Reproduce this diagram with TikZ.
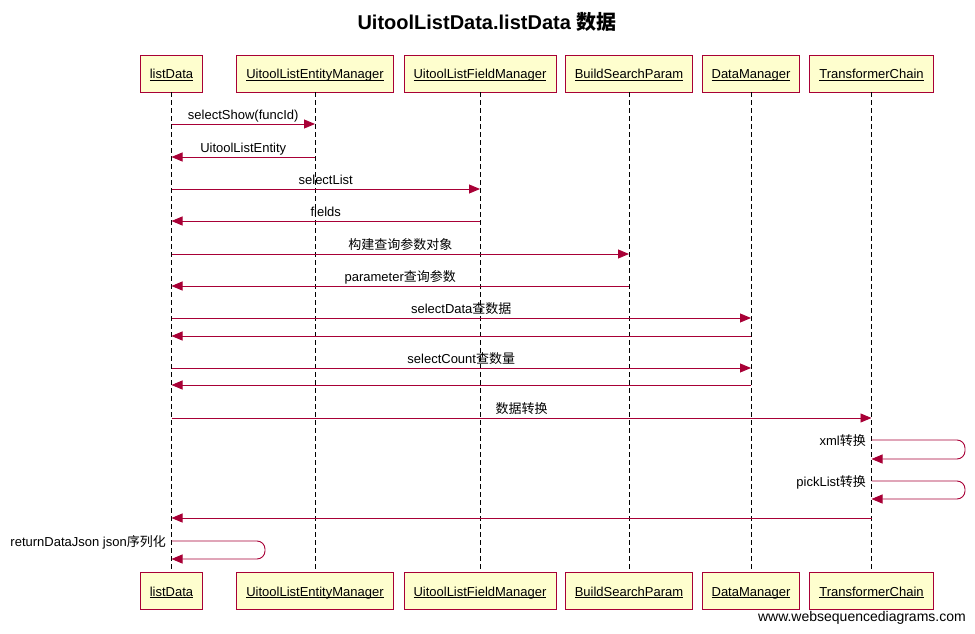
\documentclass[tikz,border=0pt]{standalone}
\usepackage{fontspec}
\setmainfont{Liberation Sans}
\newfontfamily\cjk{Noto Sans CJK SC}
\usetikzlibrary{arrows.meta}
\definecolor{seqred}{RGB}{168,0,54}
\definecolor{seqfill}{RGB}{254,254,206}
\newcommand{\ulname}[1]{\underline{\smash{#1}}}
\begin{document}
\begin{tikzpicture}[x=1pt,y=-1pt,font=\fontsize{13}{15}\selectfont,
  actor/.style={draw=seqred,fill=seqfill,line width=0.8pt,minimum height=37pt,inner xsep=9.5pt,text height=12pt,text depth=1pt},
  life/.style={line width=0.7pt,dash pattern=on 5pt off 3pt},
  msg/.style={draw=seqred,line width=0.9pt,-{Triangle[length=11pt,width=9pt]}},
  lbl/.style={anchor=south,inner sep=2pt,text height=9.5pt,text depth=2pt}]
\useasboundingbox (0,0) rectangle (975,634);
\node[font=\fontsize{20}{24}\selectfont\bfseries] (title) at (487,22) {UitoolListData.listData {\cjk 数据}};
\node[actor] (ld) at (171.5,73.5) {\ulname{listData}};
\node[actor] (uem) at (315,73.5) {\ulname{UitoolListEntityManager}};
\node[actor] (ufm) at (480,73.5) {\ulname{UitoolListFieldManager}};
\node[actor] (bsp) at (629,73.5) {\ulname{BuildSearchParam}};
\node[actor] (dm) at (751,73.5) {\ulname{DataManager}};
\node[actor] (tc) at (871.5,73.5) {\ulname{TransformerChain}};
\node[actor] (ldb) at (171.5,590.5) {\ulname{listData}};
\node[actor] (uemb) at (315,590.5) {\ulname{UitoolListEntityManager}};
\node[actor] (ufmb) at (480,590.5) {\ulname{UitoolListFieldManager}};
\node[actor] (bspb) at (629,590.5) {\ulname{BuildSearchParam}};
\node[actor] (dmb) at (751,590.5) {\ulname{DataManager}};
\node[actor] (tcb) at (871.5,590.5) {\ulname{TransformerChain}};
\draw[life] (ld) -- (ldb);
\draw[life] (uem) -- (uemb);
\draw[life] (ufm) -- (ufmb);
\draw[life] (bsp) -- (bspb);
\draw[life] (dm) -- (dmb);
\draw[life] (tc) -- (tcb);
\draw[msg] (ld |- 0,124) -- (uem |- 0,124) node[lbl,midway] {selectShow(funcId)};
\draw[msg] (uem |- 0,157) -- (ld |- 0,157) node[lbl,midway] {UitoolListEntity};
\draw[msg] (ld |- 0,189) -- (ufm |- 0,189) node[lbl,midway] {selectList};
\draw[msg] (ufm |- 0,221) -- (ld |- 0,221) node[lbl,midway] {fields};
\draw[msg] (ld |- 0,254) -- (bsp |- 0,254) node[lbl,midway] {\cjk 构建查询参数对象};
\draw[msg] (bsp |- 0,286) -- (ld |- 0,286) node[lbl,midway] {parameter{\cjk 查询参数}};
\draw[msg] (ld |- 0,318) -- (dm |- 0,318) node[lbl,midway] {selectData{\cjk 查数据}};
\draw[msg] (dm |- 0,336) -- (ld |- 0,336);
\draw[msg] (ld |- 0,368) -- (dm |- 0,368) node[lbl,midway] {selectCount{\cjk 查数量}};
\draw[msg] (dm |- 0,385) -- (ld |- 0,385);
\draw[msg] (ld |- 0,418) -- (tc |- 0,418) node[lbl,midway] {\cjk 数据转换};
\draw[msg,rounded corners=8pt] (tc |- 0,440) -- (965,440) -- (965,459) -- (tc |- 0,459);
\node[anchor=east,inner sep=0pt] (xml) at (866,441) {xml{\cjk 转换}};
\draw[msg,rounded corners=8pt] (tc |- 0,481) -- (965,481) -- (965,499) -- (tc |- 0,499);
\node[anchor=east,inner sep=0pt] (pick) at (866,482) {pickList{\cjk 转换}};
\draw[msg] (tc |- 0,518) -- (ld |- 0,518);
\draw[msg,rounded corners=8pt] (ld |- 0,541) -- (265,541) -- (265,559) -- (ld |- 0,559);
\node[anchor=east,inner sep=0pt] (json) at (166,542) {returnDataJson json{\cjk 序列化}};
\node[anchor=east,inner sep=0pt,font=\fontsize{14}{16}\selectfont] (wsd) at (966,618) {www.websequencediagrams.com};
\end{tikzpicture}
\end{document}
